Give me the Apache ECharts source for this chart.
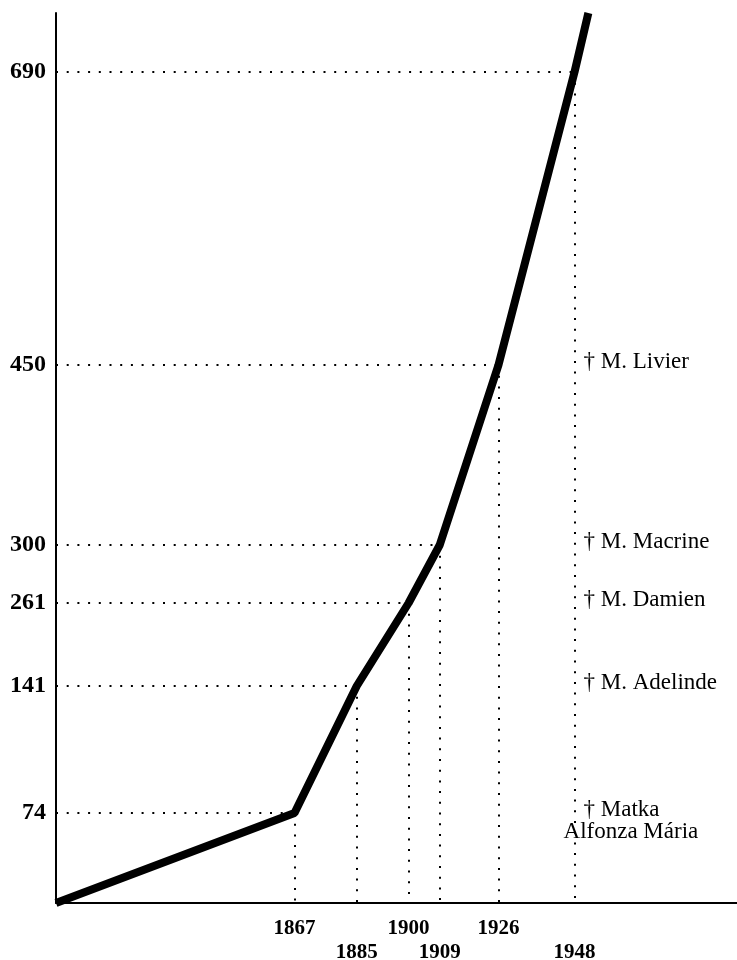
<!DOCTYPE html>
<html lang="sk">
  <head>
    <meta charset="UTF-8" />
    <title>Počet sestier</title>
    <style>
      html,
      body {
        margin: 0;
        width: 100%;
        height: 100%;
        overflow: hidden;
        background: #fff;
      }
      #main {
        width: 737px;
        height: 960px;
      }
    </style>
  </head>
  <body>
    <div id="main"></div>
    <script src="https://cdn.jsdelivr.net/npm/echarts@6/dist/echarts.min.js"></script>
    <script>
      // line vertices: year / number of sisters
      const years = [1798, 1867, 1885, 1900, 1909, 1926, 1948, 1952];
      const counts = [0, 74, 141, 261, 300, 450, 690, 740];

      // tick labels
      const xTicks = [1867, 1885, 1900, 1909, 1926, 1948];
      const yTicks = [74, 141, 261, 300, 450, 690];

      // notes on the right (level = count they sit at)
      const notes = ["† M. Livier", "† M. Macrine", "† M. Damien", "† M. Adelinde", "† Matka"];
      const noteLevels = [450, 300, 261, 141, 74];
      const noteYear = 1948;

      // the vertical axis in the original is schematic, not linear:
      // piecewise scale, count -> drawn height
      const scaleCounts = [0, 74, 141, 261, 300, 450, 690, 740];
      const scaleHeights = [0, 90, 217, 300, 358, 538, 831, 890];

      function toHeight(v) {
        for (let i = 1; i < scaleCounts.length; i++) {
          if (v <= scaleCounts[i]) {
            const t = (v - scaleCounts[i - 1]) / (scaleCounts[i] - scaleCounts[i - 1]);
            return scaleHeights[i - 1] + t * (scaleHeights[i] - scaleHeights[i - 1]);
          }
        }
        return scaleHeights[scaleHeights.length - 1];
      }
      function fromHeight(h) {
        for (let i = 1; i < scaleHeights.length; i++) {
          if (h <= scaleHeights[i] + 0.001) {
            const t = (h - scaleHeights[i - 1]) / (scaleHeights[i] - scaleHeights[i - 1]);
            return Math.round(scaleCounts[i - 1] + t * (scaleCounts[i] - scaleCounts[i - 1]));
          }
        }
        return scaleCounts[scaleCounts.length - 1];
      }

      const xMin = 1798;
      const serif = "'Liberation Serif', 'Times New Roman', serif";

      const lineData = years.map((y, i) => [y, toHeight(counts[i])]);

      // dotted guides for each labelled vertex
      const guides = [];
      for (let i = 1; i < years.length - 1; i++) {
        const h = toHeight(counts[i]);
        guides.push([{ coord: [xMin, h] }, { coord: [years[i], h] }]);
        guides.push([{ coord: [years[i], h] }, { coord: [years[i], 0] }]);
      }

      const noteData = notes.map((n, i) => ({
        name: n,
        value: [noteYear, toHeight(noteLevels[i])],
      }));
      noteData.push({
        name: "Alfonza Mária",
        value: [noteYear, toHeight(74)],
        label: { offset: [-20, 19] },
      });

      const option = {
        animation: false,
        grid: { left: 56, right: 0, top: 13, bottom: 57, outerBoundsMode: "none" },
        xAxis: {
          type: "value",
          min: xMin,
          max: 1995,
          splitLine: { show: false },
          axisLine: { lineStyle: { color: "#000", width: 2 } },
          axisTick: { show: false },
          axisLabel: {
            customValues: xTicks,
            color: "#000",
            fontFamily: serif,
            fontWeight: "bold",
            fontSize: 21,
            lineHeight: 24,
            margin: 14,
            formatter: (v) => (xTicks.indexOf(v) % 2 === 1 ? "\n" + v : String(v)),
          },
        },
        yAxis: {
          type: "value",
          min: 0,
          max: 890,
          splitLine: { show: false },
          axisLine: { show: true, lineStyle: { color: "#000", width: 2 } },
          axisTick: { show: false },
          axisLabel: {
            customValues: yTicks.map(toHeight),
            color: "#000",
            fontFamily: serif,
            fontWeight: "bold",
            fontSize: 24,
            margin: 10,
            formatter: (v) => String(fromHeight(v)),
          },
        },
        series: [
          {
            type: "line",
            data: lineData,
            symbol: "none",
            clip: false,
            z: 5,
            lineStyle: { color: "#000", width: 8 },
            markLine: {
              silent: true,
              symbol: "none",
              label: { show: false },
              lineStyle: { color: "#000", width: 2, type: [2, 8.7], opacity: 1 },
              data: guides,
            },
          },
          {
            type: "scatter",
            data: noteData,
            symbolSize: 0,
            silent: true,
            itemStyle: { opacity: 1 },
            label: {
              show: true,
              position: "right",
              distance: 9,
              offset: [0, -3],
              color: "#000",
              opacity: 1,
              fontFamily: serif,
              fontSize: 23,
              formatter: (p) => p.name,
            },
          },
        ],
      };

      const chart = echarts.init(document.getElementById("main"));
      chart.setOption(option);
    </script>
  </body>
</html>
